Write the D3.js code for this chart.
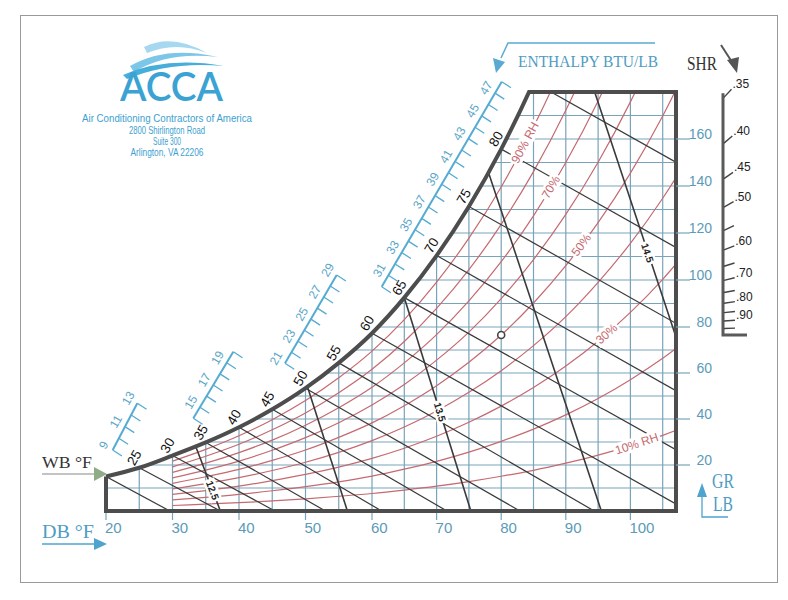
<!DOCTYPE html>
<html>
<head>
<meta charset="utf-8">
<script src="https://cdn.jsdelivr.net/npm/d3@7"></script>
<style>
  body { margin: 0; background: #fff; }
  svg { display: block; }
</style>
</head>
<body>
<svg id="chart" width="788" height="600"></svg>
<script>
// dry bulb temperatures (°F) where the curves are read
const dbTemps = [20, 25, 30, 35, 40, 45, 50, 55, 60, 65, 70, 75, 80, 85, 90, 95, 100, 105, 110]

// grains of moisture per lb of dry air on each relative humidity curve
const satGr = [15.0, 18.8, 24.1, 29.8, 36.4, 44.2, 53.4, 64.4, 77.3, 92.5, 110.4, 131.3, 155.7, 184.2, 217.4, 256.1, 301.1, 353.4, 414.2]
const rh90 = [13.5, 17.0, 21.7, 26.8, 32.7, 39.7, 48.0, 57.9, 69.5, 83.1, 99.1, 117.8, 139.6, 165.1, 194.7, 229.2, 269.1, 315.5, 369.2]
const rh80 = [12.0, 15.1, 19.2, 23.8, 29.0, 35.3, 42.6, 51.4, 61.6, 73.7, 87.9, 104.4, 123.7, 146.1, 172.2, 202.5, 237.6, 278.2, 325.1]
const rh70 = [10.5, 13.2, 16.8, 20.8, 25.4, 30.8, 37.3, 44.9, 53.8, 64.4, 76.7, 91.1, 107.8, 127.3, 150.0, 176.2, 206.5, 241.5, 281.9]
const rh60 = [9.0, 11.3, 14.4, 17.8, 21.7, 26.4, 31.9, 38.4, 46.1, 55.0, 65.6, 77.8, 92.1, 108.7, 127.9, 150.1, 175.8, 205.4, 239.4]
const rh50 = [7.5, 9.4, 12.0, 14.9, 18.1, 22.0, 26.5, 32.0, 38.3, 45.8, 54.5, 64.7, 76.5, 90.2, 106.1, 124.4, 145.5, 169.8, 197.7]
const rh40 = [6.0, 7.5, 9.6, 11.9, 14.5, 17.6, 21.2, 25.5, 30.6, 36.5, 43.5, 51.6, 61.0, 71.9, 84.4, 99.0, 115.6, 134.8, 156.7]
const rh30 = [4.5, 5.6, 7.2, 8.9, 10.8, 13.2, 15.9, 19.1, 22.9, 27.3, 32.5, 38.6, 45.6, 53.7, 63.0, 73.8, 86.2, 100.3, 116.5]
const rh20 = [3.0, 3.8, 4.8, 5.9, 7.2, 8.8, 10.6, 12.7, 15.2, 18.2, 21.6, 25.6, 30.3, 35.6, 41.8, 48.9, 57.1, 66.4, 77.0]
const rh10 = [1.5, 1.9, 2.4, 3.0, 3.6, 4.4, 5.3, 6.4, 7.6, 9.1, 10.8, 12.8, 15.1, 17.7, 20.8, 24.3, 28.3, 32.9, 38.2]
const rhCurves = [rh10, rh20, rh30, rh40, rh50, rh60, rh70, rh80, rh90]

// wet bulb lines: start on saturation, dry bulb where they reach 0 grains
const wbTemps = [20, 25, 30, 35, 40, 45, 50, 55, 60, 65, 70, 75, 80, 85]
const wbZeroDb = [29.6, 37.2, 45.4, 53.0, 61.5, 71.6, 82.9, 94.4, 109, 124, 140, 158.5, 179.5, 203]
const wbLabels = [25, 30, 35, 40, 45, 50, 55, 60, 65, 70, 75, 80]

// specific volume lines (cu ft / lb)
const volValues = [12.5, 13.0, 13.5, 14.0, 14.5]
const volSatDb = [33.5, 50.3, 65, 78, 90]
const volSatGr = [28, 54, 92.5, 146, 217]
const volZeroDb = [37.2, 56.3, 75.3, 95.5, 116]
const volLabels = [12.5, 13.5, 14.5]

// axes
const dbTicks = [20, 30, 40, 50, 60, 70, 80, 90, 100]
const grTicks = [20, 40, 60, 80, 100, 120, 140, 160]
const dbGrid = [25, 30, 35, 40, 45, 50, 55, 60, 65, 70, 75, 80, 85, 90, 95, 100, 105]
const grGrid = [10, 20, 30, 40, 50, 60, 70, 80, 90, 100, 110, 120, 130, 140, 150, 160, 170]

// enthalpy scale (BTU/lb), four straight pieces
const enthalpySegments = [[9, 13], [14, 20], [21, 29], [30, 48]]
const enthalpyLabels = [9, 11, 13, 15, 17, 19, 21, 23, 25, 27, 29, 31, 33, 35, 37, 39, 41, 43, 45, 47]

// sensible heat ratio protractor
const shrTicks = [0.35, 0.40, 0.45, 0.50, 0.55, 0.60, 0.65, 0.70, 0.75, 0.80, 0.85, 0.90, 0.95]
const shrLabels = [0.35, 0.40, 0.45, 0.50, 0.60, 0.70, 0.80, 0.90]
const refDb = 80
const refGr = 76.5

const sans = "'Liberation Sans', Arial, sans-serif"
const serif = "'Liberation Serif', 'Times New Roman', serif"
const blue = "#4e9cc2"
const gridCol = "#78a3b8"
const red = "#c56a70"
const dark = "#3a3a3a"

const svg = d3.select("#chart")

const x = d3.scaleLinear().domain([20, 60, 105]).range([106, 372, 662.7])
const y = d3.scaleLinear().domain([0, 80, 180]).range([511, 327, 92])

const xL = x(20)
const xR = 676
const yT = y(180)
const yB = y(0)

// outer frame
svg.append("rect")
  .attr("x", 20.5).attr("y", 15.5)
  .attr("width", 757).attr("height", 567)
  .attr("fill", "none").attr("stroke", "#999").attr("stroke-width", 1)

const satPts = dbTemps.map((d, i) => ({ db: d, gr: satGr[i] }))

const defs = svg.append("defs")
defs.append("clipPath").attr("id", "clip-box")
  .append("rect")
  .attr("x", xL).attr("y", yT)
  .attr("width", xR - xL).attr("height", yB - yT)

const satArea = d3.area()
  .x((d) => x(d.db))
  .y0(yB)
  .y1((d) => y(d.gr))
  .curve(d3.curveMonotoneX)

defs.append("clipPath").attr("id", "clip-sat")
  .append("path")
  .attr("d", satArea(satPts))

defs.append("clipPath").attr("id", "clip-outline")
  .append("rect")
  .attr("x", xL - 4).attr("y", yT - 2)
  .attr("width", xR - xL + 8).attr("height", yB - yT + 8)

const inner = svg.append("g")
  .attr("clip-path", "url(#clip-box)")
  .append("g")
  .attr("clip-path", "url(#clip-sat)")

// grid
inner.selectAll(".vgrid")
  .data(dbGrid)
  .enter()
  .append("line")
  .attr("x1", (d) => x(d)).attr("x2", (d) => x(d))
  .attr("y1", yB).attr("y2", yT)
  .attr("stroke", gridCol).attr("stroke-width", 1.2)

inner.selectAll(".hgrid")
  .data(grGrid)
  .enter()
  .append("line")
  .attr("x1", xL).attr("x2", xR)
  .attr("y1", (d) => y(d)).attr("y2", (d) => y(d))
  .attr("stroke", gridCol).attr("stroke-width", 1.2)

// relative humidity curves (from 30 °F)
const rhLine = d3.line()
  .x((d) => x(d.db))
  .y((d) => y(d.gr))
  .curve(d3.curveMonotoneX)

rhCurves.forEach((arr) => {
  const pts = dbTemps.map((d, i) => ({ db: d, gr: arr[i] })).filter((p) => p.db >= 30)
  inner.append("path")
    .attr("d", rhLine(pts))
    .attr("fill", "none")
    .attr("stroke", red)
    .attr("stroke-width", 1.2)
})

// wet bulb lines
wbTemps.forEach((wb, i) => {
  const g0 = satGr[dbTemps.indexOf(wb)]
  inner.append("line")
    .attr("x1", x(wb)).attr("y1", y(g0))
    .attr("x2", x(wbZeroDb[i])).attr("y2", y(0))
    .attr("stroke", dark).attr("stroke-width", 1.2)
})

// specific volume lines
volValues.forEach((v, i) => {
  const x0 = x(volZeroDb[i])
  const y0 = y(0)
  const x1 = x(volSatDb[i])
  const y1 = y(volSatGr[i])
  inner.append("line")
    .attr("x1", x0).attr("y1", y0)
    .attr("x2", x0 + (x1 - x0) * 1.2).attr("y2", y0 + (y1 - y0) * 1.2)
    .attr("stroke", dark).attr("stroke-width", 1.6)
})

// labels with white backing
const boxLabel = (px, py, angle, text, size, color, weight) => {
  const g = svg.append("g").attr("transform", `translate(${px},${py}) rotate(${angle})`)
  const t = g.append("text")
    .attr("text-anchor", "middle")
    .attr("dominant-baseline", "central")
    .attr("font-family", sans)
    .attr("font-size", size)
    .attr("font-weight", weight || "normal")
    .attr("fill", color)
    .text(text)
  const w = t.node().getComputedTextLength()
  g.insert("rect", "text")
    .attr("x", -w / 2 - 2).attr("y", -size / 2 - 1)
    .attr("width", w + 4).attr("height", size + 2)
    .attr("fill", "#fff")
}

const grAt = (arr, db) => {
  const i = Math.min(dbTemps.length - 2, Math.floor((db - 20) / 5))
  const f = (db - dbTemps[i]) / 5
  return arr[i] + (arr[i + 1] - arr[i]) * f
}

const rhText = [
  { arr: rh90, db: 83.7, text: "90% RH" },
  { arr: rh70, db: 87.7, text: "70%" },
  { arr: rh50, db: 92.4, text: "50%" },
  { arr: rh30, db: 96.3, text: "30%" },
  { arr: rh10, db: 101.0, text: "10% RH" },
]
rhText.forEach((r) => {
  const px = x(r.db)
  const py = y(grAt(r.arr, r.db))
  const dx = x(r.db + 1) - x(r.db - 1)
  const dy = y(grAt(r.arr, r.db + 1)) - y(grAt(r.arr, r.db - 1))
  const ang = (Math.atan2(dy, dx) * 180) / Math.PI
  boxLabel(px, py, ang, r.text, 12, red)
})

const volLabelGr = [9, 43, 111.5]
volLabels.forEach((v, k) => {
  const i = volValues.indexOf(v)
  const gr = volLabelGr[k]
  const db = volZeroDb[i] + ((volSatDb[i] - volZeroDb[i]) * gr) / volSatGr[i]
  const ang = (Math.atan2(y(0) - y(volSatGr[i]), x(volZeroDb[i]) - x(volSatDb[i])) * 180) / Math.PI
  boxLabel(x(db), y(gr), ang, v.toFixed(1), 10, "#222", "bold")
})

// outline of the chart
svg.append("g")
  .attr("clip-path", "url(#clip-outline)")
  .append("path")
  .attr("d", d3.line().x((d) => x(d.db)).y((d) => y(d.gr)).curve(d3.curveMonotoneX)(satPts))
  .attr("fill", "none")
  .attr("stroke", "#4d4d4d")
  .attr("stroke-width", 4)

svg.append("g")
  .attr("clip-path", "url(#clip-sat)")
  .append("line")
  .attr("x1", xL).attr("x2", xR + 2)
  .attr("y1", yT).attr("y2", yT)
  .attr("stroke", "#4d4d4d")
  .attr("stroke-width", 4)

svg.append("path")
  .attr("d", `M${xL},${y(satGr[0])} L${xL},${yB} L${xR},${yB} L${xR},${yT - 2}`)
  .attr("fill", "none")
  .attr("stroke", "#4d4d4d")
  .attr("stroke-width", 4)
  .attr("stroke-linejoin", "miter")

// wet bulb labels on the saturation curve
svg.selectAll(".wbl")
  .data(wbLabels)
  .enter()
  .append("text")
  .attr("transform", (d) => `translate(${x(d) - 5},${y(satGr[dbTemps.indexOf(d)]) - 10}) rotate(-60)`)
  .attr("text-anchor", "middle")
  .attr("dominant-baseline", "central")
  .attr("font-family", sans)
  .attr("font-size", 13.5)
  .attr("fill", "#111")
  .text((d) => d)

// reference point
svg.append("circle")
  .attr("cx", x(refDb)).attr("cy", y(refGr))
  .attr("r", 3.5)
  .attr("fill", "#fff")
  .attr("stroke", "#444")
  .attr("stroke-width", 1.6)

// dry bulb axis
svg.selectAll(".xt")
  .data(dbTicks)
  .enter()
  .append("line")
  .attr("x1", (d) => x(d)).attr("x2", (d) => x(d))
  .attr("y1", yB + 2).attr("y2", yB + 9)
  .attr("stroke", gridCol).attr("stroke-width", 1.2)

svg.selectAll(".xl")
  .data(dbTicks)
  .enter()
  .append("text")
  .attr("x", (d) => x(d) - 1)
  .attr("y", 533)
  .attr("font-family", sans)
  .attr("font-size", 15)
  .attr("fill", "#5b9bb8")
  .text((d) => d)

// grains axis
svg.selectAll(".yt")
  .data(grTicks)
  .enter()
  .append("line")
  .attr("x1", xR).attr("x2", 690)
  .attr("y1", (d) => y(d)).attr("y2", (d) => y(d))
  .attr("stroke", gridCol).attr("stroke-width", 1.2)

svg.selectAll(".yl")
  .data(grTicks)
  .enter()
  .append("text")
  .attr("x", 712)
  .attr("y", (d) => y(d))
  .attr("text-anchor", "end")
  .attr("font-family", sans)
  .attr("font-size", 14)
  .attr("fill", "#5b9bb8")
  .text((d) => d)

// enthalpy scale
const segPx = [
  [[112.7, 450], [137.3, 403.3]],
  [[193.3, 418.3], [233.3, 351.7]],
  [[285, 363.3], [336.7, 275]],
  [[381.7, 286.7], [501.7, 81.7]],
]
const tickDir = [Math.cos((33 * Math.PI) / 180), Math.sin((33 * Math.PI) / 180)]

enthalpySegments.forEach((seg, i) => {
  const [p0, p1] = segPx[i]
  const s = d3.scaleLinear().domain(seg).range([0, 1])
  const at = (h) => [p0[0] + (p1[0] - p0[0]) * s(h), p0[1] + (p1[1] - p0[1]) * s(h)]
  svg.append("line")
    .attr("x1", p0[0]).attr("y1", p0[1])
    .attr("x2", p1[0]).attr("y2", p1[1])
    .attr("stroke", "#55abd2").attr("stroke-width", 2)
  const hs = d3.range(seg[0], seg[1] + 1)
  svg.selectAll(null)
    .data(hs)
    .enter()
    .append("line")
    .attr("x1", (h) => at(h)[0]).attr("y1", (h) => at(h)[1])
    .attr("x2", (h) => at(h)[0] + 11 * tickDir[0]).attr("y2", (h) => at(h)[1] + 11 * tickDir[1])
    .attr("stroke", "#55abd2").attr("stroke-width", 1.3)
  svg.selectAll(null)
    .data(enthalpyLabels.filter((h) => h >= seg[0] && h <= seg[1]))
    .enter()
    .append("text")
    .attr("transform", (h) => `translate(${at(h)[0] - 9},${at(h)[1] - 5}) rotate(-60)`)
    .attr("text-anchor", "middle")
    .attr("dominant-baseline", "central")
    .attr("font-family", sans)
    .attr("font-size", 12)
    .attr("fill", "#5aa6c8")
    .text((h) => h)
})

// SHR protractor
const xShr = 723
const shrDb = x.invert(xShr)
const shrGr = (s) => refGr + (7000 * 0.244 * (shrDb - refDb) * (1 - s)) / (1076 * s)
const shrY = (s) => y(shrGr(s))
const shrEnd = (s, len) => {
  const dx = xShr - x(refDb)
  const dy = shrY(s) - y(refGr)
  const n = Math.hypot(dx, dy)
  return [xShr + 1 + (len * dx) / n, shrY(s) + (len * dy) / n]
}

svg.append("path")
  .attr("d", `M${xShr},${shrY(0.35) - 4} L${xShr},${y(refGr)} L747,${y(refGr)}`)
  .attr("fill", "none")
  .attr("stroke", "#5a5a5a")
  .attr("stroke-width", 3)

svg.selectAll(".shrt")
  .data(shrTicks)
  .enter()
  .append("line")
  .attr("x1", xShr + 1).attr("y1", (s) => shrY(s))
  .attr("x2", (s) => shrEnd(s, 11)[0]).attr("y2", (s) => shrEnd(s, 11)[1])
  .attr("stroke", "#444").attr("stroke-width", 1.4)

svg.selectAll(".shrl")
  .data(shrLabels)
  .enter()
  .append("text")
  .attr("x", (s) => shrEnd(s, 11)[0] + 1)
  .attr("y", (s) => shrEnd(s, 11)[1] - 1)
  .attr("font-family", sans)
  .attr("font-size", 12)
  .attr("fill", "#222")
  .text((s) => d3.format(".2f")(s).slice(1))

svg.append("text")
  .attr("x", 687).attr("y", 70)
  .attr("font-family", serif).attr("font-size", 18)
  .attr("textLength", 30).attr("lengthAdjust", "spacingAndGlyphs")
  .attr("fill", "#333")
  .text("SHR")

svg.append("line")
  .attr("x1", 721).attr("y1", 45).attr("x2", 732).attr("y2", 62)
  .attr("stroke", "#555").attr("stroke-width", 2)
svg.append("path")
  .attr("d", "M727,60 L739,57 L737,73 Z")
  .attr("fill", "#555")

// enthalpy title and arrow
svg.append("text")
  .attr("x", 518).attr("y", 67)
  .attr("font-family", serif).attr("font-size", 17)
  .attr("textLength", 140).attr("lengthAdjust", "spacingAndGlyphs")
  .attr("fill", blue)
  .text("ENTHALPY BTU/LB")

svg.append("path")
  .attr("d", "M655,43 L508,43 L501,58")
  .attr("fill", "none").attr("stroke", "#5aaad4").attr("stroke-width", 1.5)
svg.append("path")
  .attr("d", "M493,58 L505,62 L496,73 Z")
  .attr("fill", "#5aaad4")

// WB and DB captions
svg.append("text")
  .attr("x", 42).attr("y", 468)
  .attr("font-family", serif).attr("font-size", 16)
  .attr("textLength", 50).attr("lengthAdjust", "spacingAndGlyphs")
  .attr("fill", "#333")
  .text("WB °F")
svg.append("line")
  .attr("x1", 42).attr("y1", 474).attr("x2", 96).attr("y2", 474)
  .attr("stroke", "#888").attr("stroke-width", 1.2)
svg.append("path")
  .attr("d", "M94,467 L107,474 L94,481 Z")
  .attr("fill", "#8fac86")

svg.append("text")
  .attr("x", 42).attr("y", 538)
  .attr("font-family", serif).attr("font-size", 18)
  .attr("textLength", 52).attr("lengthAdjust", "spacingAndGlyphs")
  .attr("fill", blue)
  .text("DB °F")
svg.append("line")
  .attr("x1", 42).attr("y1", 544).attr("x2", 96).attr("y2", 544)
  .attr("stroke", "#4ea3cf").attr("stroke-width", 1.5)
svg.append("path")
  .attr("d", "M94,538 L107,544 L94,550 Z")
  .attr("fill", "#4ea3cf")

// GR LB caption
svg.append("text")
  .attr("x", 712).attr("y", 488)
  .attr("font-family", serif).attr("font-size", 20)
  .attr("textLength", 22).attr("lengthAdjust", "spacingAndGlyphs")
  .attr("fill", blue)
  .text("GR")
svg.append("text")
  .attr("x", 713).attr("y", 511)
  .attr("font-family", serif).attr("font-size", 20)
  .attr("textLength", 20).attr("lengthAdjust", "spacingAndGlyphs")
  .attr("fill", blue)
  .text("LB")
svg.append("path")
  .attr("d", "M728,517 L702,517 L702,495")
  .attr("fill", "none").attr("stroke", "#4ea3cf").attr("stroke-width", 1.3)
svg.append("path")
  .attr("d", "M697,497 L702,483 L707,497 Z")
  .attr("fill", "#4ea3cf")

// ACCA logo
svg.append("path")
  .attr("d", "M144,47 Q172,33 207,53 Q176,41 147,53 Z")
  .attr("fill", "#a6d9ef")
svg.append("path")
  .attr("d", "M130,66 Q166,45 218,57 Q168,51 134,72 Z")
  .attr("fill", "#7cc6e7")
svg.append("path")
  .attr("d", "M123,75 Q166,56 224,66 Q170,61 127,79 Z")
  .attr("fill", "#47addb")

svg.append("text")
  .attr("x", 120).attr("y", 101)
  .attr("font-family", "Lato, 'Liberation Sans', sans-serif")
  .attr("font-size", 40)
  .attr("font-weight", 600)
  .attr("textLength", 103).attr("lengthAdjust", "spacingAndGlyphs")
  .attr("fill", "#3ba3d3")
  .text("ACCA")

const address = [
  { t: "Air Conditioning Contractors of America", y: 122, w: 170 },
  { t: "2800 Shirlington Road", y: 134, w: 76 },
  { t: "Suite 300", y: 145, w: 28 },
  { t: "Arlington, VA 22206", y: 156, w: 73 },
]
svg.selectAll(".addr")
  .data(address)
  .enter()
  .append("text")
  .attr("x", 167)
  .attr("y", (d) => d.y)
  .attr("text-anchor", "middle")
  .attr("font-family", "'Liberation Sans Narrow', 'Liberation Sans', sans-serif")
  .attr("font-size", 11)
  .attr("textLength", (d) => d.w)
  .attr("lengthAdjust", "spacingAndGlyphs")
  .attr("fill", "#3d9fd0")
  .text((d) => d.t)
</script>
</body>
</html>
